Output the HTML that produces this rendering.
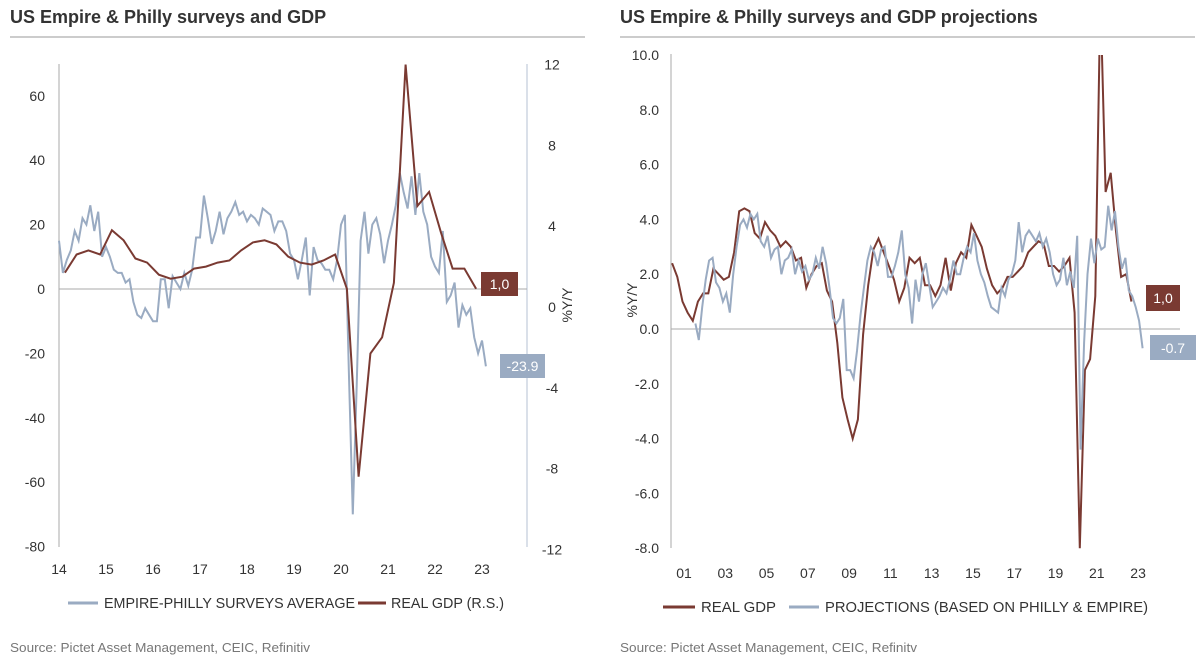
<!DOCTYPE html>
<html><head><meta charset="utf-8"><style>
html,body{margin:0;padding:0;background:#fff;}
svg{display:block;font-family:"Liberation Sans Narrow","Liberation Sans",sans-serif;}
</style></head><body>
<svg id="root" width="1200" height="664" viewBox="0 0 1200 664">
<g>
<text x="10" y="23" font-size="18" font-weight="bold" fill="#333" font-family="Liberation Sans, sans-serif">US Empire &amp; Philly surveys and GDP</text>
<line x1="10" y1="37" x2="585" y2="37" stroke="#999" stroke-width="1"/>
<g id="L"></g>
<line x1="68" y1="603" x2="98" y2="603" stroke="#9aabc2" stroke-width="3"/>
<text x="104" y="608" font-size="15" fill="#333" textLength="251" lengthAdjust="spacingAndGlyphs">EMPIRE-PHILLY SURVEYS AVERAGE</text>
<line x1="358" y1="603" x2="386" y2="603" stroke="#7a3a32" stroke-width="3"/>
<text x="391" y="608" font-size="15" fill="#333" textLength="113" lengthAdjust="spacingAndGlyphs">REAL GDP (R.S.)</text>
<text x="10" y="652" font-size="13" fill="#777" textLength="300" lengthAdjust="spacingAndGlyphs">Source: Pictet Asset Management, CEIC, Refinitiv</text>
</g>
<g>
<text x="620" y="23" font-size="18" font-weight="bold" fill="#333" font-family="Liberation Sans, sans-serif">US Empire &amp; Philly surveys and GDP projections</text>
<line x1="620" y1="37" x2="1195" y2="37" stroke="#999" stroke-width="1"/>
<g id="R"></g>
<line x1="663" y1="607" x2="695" y2="607" stroke="#7a3a32" stroke-width="3"/>
<text x="701" y="612" font-size="15" fill="#333" textLength="75" lengthAdjust="spacingAndGlyphs">REAL GDP</text>
<line x1="789" y1="607" x2="819" y2="607" stroke="#9aabc2" stroke-width="3"/>
<text x="825" y="612" font-size="15" fill="#333" textLength="323" lengthAdjust="spacingAndGlyphs">PROJECTIONS (BASED ON PHILLY &amp; EMPIRE)</text>
<text x="620" y="652" font-size="13" fill="#777" textLength="297" lengthAdjust="spacingAndGlyphs">Source: Pictet Asset Management, CEIC, Refinitv</text>
</g>
</svg>
<script>
// ---------- LEFT CHART DATA ----------
const leftYears = ["14","15","16","17","18","19","20","21","22","23"];
const leftYTicks = [60,40,20,0,-20,-40,-60,-80];
const rightYTicks = [12,8,4,0,-4,-8,-12];
const surveyStart = 2014;
const surveyValues = [
15,5,9,12,18,15,22,20,26,18,24,10,
13,10,6,5,5,2,3,-4,-8,-9,-6,-8,
-10,-10,3,3,-6,4,2,0,5,1,6,16,
16,29,22,14,18,24,17,22,24,27,23,24,
21,23,22,20,25,24,23,18,21,21,18,11,
9,3,9,16,-2,13,9,8,6,6,3,9,
20,23,-25,-70,-30,15,24,11,20,22,17,8,
15,20,26,36,30,25,35,23,36,24,20,10,
7,5,18,-4,-2,2,-12,-5,-8,-6,-15,-20,
-16,-24];
const gdpStartL = 2014;
const gdpValuesL = [
1.7,2.6,2.8,2.6, 3.8,3.3,2.4,2.2, 1.6,1.4,1.5,1.9, 2.0,2.2,2.3,2.8,
3.2,3.3,3.1,2.5, 2.2,2.1,2.3,2.6, 0.9,-8.4,-2.3,-1.5, 1.2,12.0,5.0,5.7,
3.7,1.9,1.9,0.9];
const leftLabels = ["1,0","-23.9"];

// ---------- RIGHT CHART DATA ----------
const rightXLabels = ["01","03","05","07","09","11","13","15","17","19","21","23"];
const rightYTickVals = [10,8,6,4,2,0,-2,-4,-6,-8];
const gdpStartR = 2000.5; // 2000 Q3
const gdpValuesR = [
2.4,1.9,
1.0,0.6,0.3,1.0, 1.3,1.3,2.2,2.0, 1.8,1.9,2.8,4.3, 4.4,4.3,3.5,3.3,
3.9,3.6,3.4,3.0, 3.2,3.0,2.5,2.6, 1.5,2.0,2.3,2.4, 1.4,1.0,-0.5,-2.5,
-3.3,-4.0,-3.3,-0.2, 1.6,2.9,3.3,2.8, 2.3,1.8,1.0,1.5, 2.6,2.4,2.6,1.6,
1.6,1.2,1.6,2.6, 1.4,2.4,2.8,2.6, 3.8,3.4,3.0,2.2, 1.6,1.3,1.5,1.9,
1.9,2.1,2.3,2.8, 3.0,3.2,3.1,2.3, 2.3,2.1,2.3,2.6, 0.6,-8.0,-1.5,-1.1,
1.2,12.2,5.0,5.7, 3.6,1.9,2.0,1.0];
const projStart = 2001.75;
const projValues = [
0.2,-0.4,
0.8,1.8,2.5,2.6,1.7,1.5,
1.0,1.3,0.6,2.0,3.0,3.8,
4.0,3.7,4.2,4.0,4.2,3.2,
3.0,3.4,2.6,2.9,3.0,2.0,
2.5,2.6,2.9,2.0,2.5,2.1,
2.3,1.8,2.0,2.6,2.2,3.0,
2.4,1.5,0.4,0.2,0.4,1.1,
-1.5,-1.5,-1.8,-0.8,0.5,1.5,
2.5,3.0,2.8,2.3,2.9,3.0,
1.9,1.9,2.3,2.8,3.6,2.0,
1.5,0.2,1.8,1.0,2.0,2.4,
1.6,0.8,1.0,1.2,1.5,1.3,
1.8,2.5,2.0,2.0,2.6,3.0,
2.8,3.5,2.5,2.0,1.7,1.2,
0.8,0.7,0.6,1.5,1.2,1.8,
2.0,2.5,3.9,2.8,3.4,3.6,
3.4,3.2,3.5,3.0,3.3,2.8,
2.0,1.6,1.8,2.6,1.6,2.1,
1.5,3.4,-4.4,-0.5,2.0,3.3,
2.4,3.3,2.9,3.0,4.5,3.6,
4.3,3.0,2.2,2.6,1.4,1.2,
0.8,0.3,-0.7];
const rightLabels = ["1,0","-0.7"];

const NS="http://www.w3.org/2000/svg";
function mk(parent,tag,attrs,text){const e=document.createElementNS(NS,tag);for(const k in attrs)e.setAttribute(k,attrs[k]);if(text!==undefined)e.textContent=text;parent.appendChild(e);return e;}
const BROWN="#7a3a32", BLUE="#9aabc2";

// ---- left scales
const xL = t => 59 + (t-2014)*47;
const yLl = v => 289 - v*3.22;
const yLr = v => 307 - v*20.2;
const L=document.getElementById('L');
let e;
e=mk(L,'line',{x1:59,y1:64,x2:59,y2:547,stroke:"#aaa"});


e=mk(L,'line',{x1:527,y1:64,x2:527,y2:547,stroke:"#b5c2d3"});


e=mk(L,'line',{x1:59,y1:yLl(0),x2:527,y2:yLl(0),stroke:"#aaa"});


leftYTicks.forEach(v=>{
  e=mk(L,'text',{x:45,y:yLl(v)+5,"font-size":14,fill:"#333","text-anchor":"end"},String(v));
  
  
});
rightYTicks.forEach(v=>{
  e=mk(L,'text',{x:552,y:yLr(v)+5,"font-size":14,fill:"#333","text-anchor":"middle"},String(v));
  
  
});
leftYears.forEach((s,i)=>{
  e=mk(L,'text',{x:xL(2014+i),y:574,"font-size":14,fill:"#333","text-anchor":"middle"},s);
  
  
});
e=mk(L,'text',{x:0,y:0,"font-size":14,fill:"#333","text-anchor":"middle",transform:"translate(572,305) rotate(-90)"},"%Y/Y");


let pts=surveyValues.map((v,i)=>xL(surveyStart+i/12).toFixed(1)+","+yLl(v).toFixed(1)).join(" ");
e=mk(L,'polyline',{points:pts,fill:"none",stroke:BLUE,"stroke-width":2});


pts=gdpValuesL.map((v,i)=>xL(gdpStartL+i/4+0.125).toFixed(1)+","+yLr(v).toFixed(1)).join(" ");
e=mk(L,'polyline',{points:pts,fill:"none",stroke:BROWN,"stroke-width":2});


e=mk(L,'rect',{x:481,y:272,width:37,height:24,fill:BROWN});


e=mk(L,'text',{x:499.5,y:289,"font-size":14,fill:"#fff","text-anchor":"middle"},leftLabels[0]);


e=mk(L,'rect',{x:500,y:354,width:45,height:24,fill:BLUE});


e=mk(L,'text',{x:522.5,y:371,"font-size":14,fill:"#fff","text-anchor":"middle"},leftLabels[1]);



// ---- right scales
const xR = t => 684 + (t-2001.2)*20.64;
const yR = v => 329 - v*27.4;
const R=document.getElementById('R');
const defs=mk(R,'defs',{});
const cp=mk(defs,'clipPath',{id:'clipR'});
mk(cp,'rect',{x:660,y:yR(10),width:540,height:yR(-8)-yR(10)+1});
e=mk(R,'line',{x1:671,y1:54,x2:671,y2:548,stroke:"#aaa"});


e=mk(R,'line',{x1:671,y1:yR(0),x2:1180,y2:yR(0),stroke:"#aaa"});


rightYTickVals.forEach(v=>{
  e=mk(R,'text',{x:659,y:yR(v)+5,"font-size":14,fill:"#333","text-anchor":"end"},v.toFixed(1));
  
  
});
rightXLabels.forEach((s,i)=>{
  e=mk(R,'text',{x:684+i*2*20.64,y:578,"font-size":14,fill:"#333","text-anchor":"middle"},s);
  
  
});
e=mk(R,'text',{x:0,y:0,"font-size":14,fill:"#333","text-anchor":"middle",transform:"translate(637,300) rotate(-90)"},"%Y/Y");


const g=mk(R,'g',{"clip-path":"url(#clipR)"});
pts=gdpValuesR.map((v,i)=>xR(gdpStartR+i/4+0.125).toFixed(1)+","+yR(v).toFixed(1)).join(" ");
e=mk(g,'polyline',{points:pts,fill:"none",stroke:BROWN,"stroke-width":2});


pts=projValues.map((v,i)=>xR(projStart+i/6).toFixed(1)+","+yR(v).toFixed(1)).join(" ");
e=mk(g,'polyline',{points:pts,fill:"none",stroke:BLUE,"stroke-width":2});


e=mk(R,'rect',{x:1146,y:285,width:34,height:26,fill:BROWN});


e=mk(R,'text',{x:1163,y:303,"font-size":14,fill:"#fff","text-anchor":"middle"},rightLabels[0]);


e=mk(R,'rect',{x:1150,y:335,width:46,height:25,fill:BLUE});


e=mk(R,'text',{x:1173,y:353,"font-size":14,fill:"#fff","text-anchor":"middle"},rightLabels[1]);


</script>
</body></html>
